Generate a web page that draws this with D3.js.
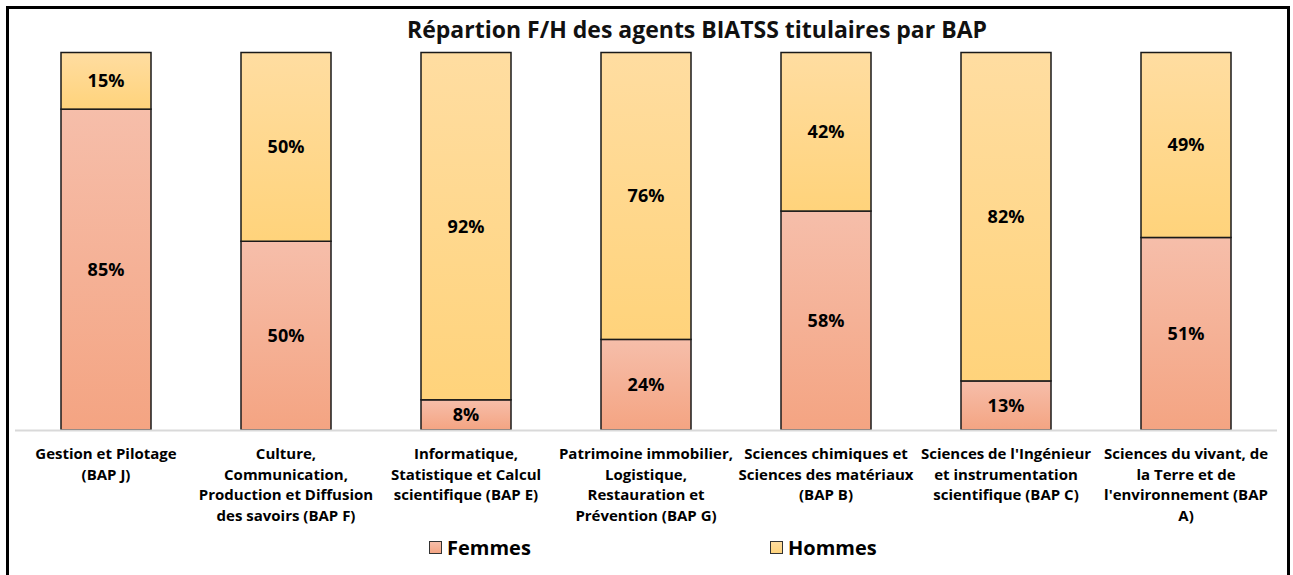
<!DOCTYPE html>
<html>
<head>
<meta charset="utf-8">
<script src="https://cdn.jsdelivr.net/npm/d3@7"></script>
<style>
  body { margin: 0; background: #fff; }
  svg { display: block; font-family: "Open Sans", Lato, sans-serif; font-weight: 700; }
</style>
</head>
<body>
<div class="container"></div>
<script>
const categories = [
  ['Gestion et Pilotage', '(BAP J)'],
  ['Culture,', 'Communication,', 'Production et Diffusion', 'des savoirs (BAP F)'],
  ['Informatique,', 'Statistique et Calcul', 'scientifique (BAP E)'],
  ['Patrimoine immobilier,', 'Logistique,', 'Restauration et', 'Prévention (BAP G)'],
  ['Sciences chimiques et', 'Sciences des matériaux', '(BAP B)'],
  ["Sciences de l'Ingénieur", 'et instrumentation', 'scientifique (BAP C)'],
  ['Sciences du vivant, de', 'la Terre et de', "l'environnement (BAP", 'A)']
];
// bar shares (100% stacked)
const femmes = [85, 50, 8, 24, 58, 13, 51];
const hommes = [15, 50, 92, 76, 42, 87, 49];
// data labels as printed on the chart
const femmesLabels = ['85%', '50%', '8%', '24%', '58%', '13%', '51%'];
const hommesLabels = ['15%', '50%', '92%', '76%', '42%', '82%', '49%'];
const seriesNames = ['Femmes', 'Hommes'];

const width = 1293;
const height = 575;

const svg = d3
  .select('.container')
  .append('svg')
  .attr('width', width)
  .attr('height', height);

const defs = svg.append('defs');
const grads = [
  { id: 'gF', top: '#F6BEAA', bottom: '#F4A482' },
  { id: 'gH', top: '#FFDDA1', bottom: '#FFD37B' }
];
grads.forEach((g) => {
  const lg = defs.append('linearGradient')
    .attr('id', g.id)
    .attr('x1', 0).attr('y1', 0).attr('x2', 0).attr('y2', 1);
  lg.append('stop').attr('offset', '0%').attr('stop-color', g.top);
  lg.append('stop').attr('offset', '100%').attr('stop-color', g.bottom);
});

// frame
svg.append('rect')
  .attr('x', 7.5).attr('y', 7.5)
  .attr('width', 1281).attr('height', 590)
  .attr('fill', 'none')
  .attr('stroke', '#000')
  .attr('stroke-width', 3);

svg.append('text')
  .attr('x', 697)
  .attr('y', 38)
  .attr('text-anchor', 'middle')
  .attr('font-size', 23)
  .attr('fill', '#111')
  .text('Répartion F/H des agents BIATSS titulaires par BAP');

const x = d3.scaleBand()
  .domain(d3.range(categories.length))
  .range([16, 1276])
  .paddingInner(0.5)
  .paddingOuter(0.25);

const y = d3.scaleLinear().domain([0, 100]).range([430, 52.5]);

const rows = categories.map((c, i) => ({ i, Femmes: femmes[i], Hommes: hommes[i] }));
const stacked = d3.stack().keys(seriesNames)(rows);

const fills = { Femmes: 'url(#gF)', Hommes: 'url(#gH)' };
const labels = { Femmes: femmesLabels, Hommes: hommesLabels };

stacked.forEach((layer) => {
  const g = svg.append('g').attr('class', 'series-' + layer.key);
  g.selectAll('rect')
    .data(layer)
    .join('rect')
    .attr('x', (d) => x(d.data.i))
    .attr('width', x.bandwidth())
    .attr('y', (d) => y(d[1]))
    .attr('height', (d) => y(d[0]) - y(d[1]))
    .attr('fill', fills[layer.key])
    .attr('stroke', '#1a1a1a')
    .attr('stroke-width', 1.5);
});

// axis baseline
svg.append('line')
  .attr('x1', 15).attr('x2', 1277)
  .attr('y1', 430.5).attr('y2', 430.5)
  .attr('stroke', '#D9D9D9')
  .attr('stroke-width', 2);

// value labels
stacked.forEach((layer) => {
  svg.append('g')
    .selectAll('text')
    .data(layer)
    .join('text')
    .attr('x', (d) => x(d.data.i) + x.bandwidth() / 2)
    .attr('y', (d) => (y(d[0]) + y(d[1])) / 2)
    .attr('dy', '0.36em')
    .attr('text-anchor', 'middle')
    .attr('font-size', 18)
    .attr('fill', '#000')
    .text((d) => labels[layer.key][d.data.i]);
});

// category labels
const catG = svg.append('g');
categories.forEach((lines, i) => {
  const t = catG.append('text')
    .attr('x', x(i) + x.bandwidth() / 2)
    .attr('y', 459)
    .attr('text-anchor', 'middle')
    .attr('font-size', 15)
    .attr('fill', '#000');
  lines.forEach((ln, k) => {
    t.append('tspan')
      .attr('x', x(i) + x.bandwidth() / 2)
      .attr('dy', k === 0 ? 0 : 20.5)
      .text(ln);
  });
});

// legend
const legendPos = [429, 770];
seriesNames.forEach((name, k) => {
  const lg = svg.append('g').attr('transform', `translate(${legendPos[k]}, 541)`);
  lg.append('rect')
    .attr('x', 0.5).attr('y', 0.5)
    .attr('width', 12).attr('height', 12)
    .attr('fill', fills[name])
    .attr('stroke', '#333')
    .attr('stroke-width', 1);
  lg.append('text')
    .attr('x', 18)
    .attr('y', 13.5)
    .attr('font-size', 20)
    .attr('fill', '#000')
    .text(name);
});
</script>
</body>
</html>
